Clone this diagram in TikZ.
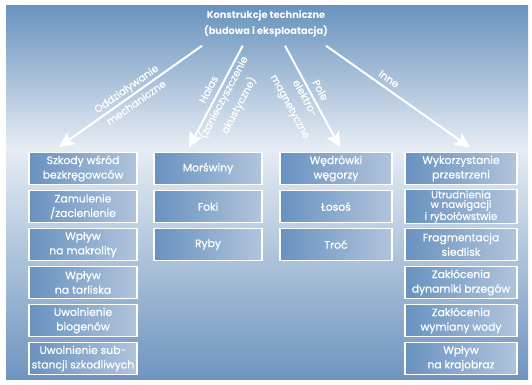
\documentclass[tikz,border=0pt]{standalone}
\usepackage{fontspec}
\setmainfont{Poppins}
\newfontfamily\boxfont{Poppins}[FakeBold=0.6]
\usetikzlibrary{arrows.meta}
\definecolor{bgtop}{HTML}{6892BD}
\definecolor{bglight}{HTML}{E6ECF4}
\definecolor{bgbot}{HTML}{6E95BF}
\definecolor{boxL}{HTML}{6892BF}
\definecolor{boxR}{HTML}{B0C4DC}
\tikzset{
  cbox/.style={draw=white, line width=1.2pt, left color=boxL, right color=boxR,
    text=white, minimum width=108pt, minimum height=32pt, inner sep=1pt,
    align=center, font=\boxfont\fontsize{10.8}{14.5}\selectfont},
  wbox/.style={cbox, minimum width=112pt},
  arr/.style={draw=white, line width=2pt, -{Stealth[length=15pt,width=14pt,inset=3pt]}},
  lbl/.style={text=white, align=center, font=\boxfont\fontsize{10.3}{17}\selectfont, inner sep=0pt}
}
\begin{document}
\begin{tikzpicture}[x=1pt,y=-1pt]
\useasboundingbox (0,0) rectangle (532,384);
\fill[top color=bgtop, bottom color=bglight] (6,5) rectangle (528,148.5);
\fill[top color=bglight, bottom color=bgbot] (6,148) rectangle (528,379);

\node[text=white, align=center, font=\fontsize{9.8}{16}\selectfont\bfseries] (title) at (266,24)
  {Konstrukcje techniczne\\(budowa i eksploatacja)};

\coordinate (s1) at (202,45.7);
\coordinate (e1) at (59,147);
\coordinate (s2) at (242.7,45.7);
\coordinate (e2) at (189,147.5);
\coordinate (s3) at (285,45.7);
\coordinate (e3) at (340,147.5);
\coordinate (s4) at (326,45.7);
\coordinate (e4) at (470,147.5);

\draw[arr] (s1) -- (e1);
\draw[arr] (s2) -- (e2);
\draw[arr] (s3) -- (e3);
\draw[arr] (s4) -- (e4);

\node[lbl, rotate=35.2] (l1) at (131,95.5) {Oddziaływanie\\mechaniczne};
\node[lbl, rotate=62.1] (l2) at (224.5,97.8) {Hałas\\(zanieczyszczenie\\akustyczne)};
\node[lbl, rotate=-61.5] (l3) at (304.4,98.8) {Pole\\elektro-\\magnetyczne};
\node[lbl, rotate=-35.1] (l4) at (389,79) {Inne};

% column 1
\node[cbox] (a1) at (83,168.5) {Szkody wśród\\bezkręgowców};
\node[cbox] (a2) at (83,206.5) {Zamulenie\\/zacienienie};
\node[cbox] (a3) at (83,244.5) {Wpływ\\na makrolity};
\node[cbox] (a4) at (83,282.5) {Wpływ\\na tarliska};
\node[cbox] (a5) at (83,320.5) {Uwolnienie\\biogenów};
\node[cbox] (a6) at (83,358.5) {Uwolnienie sub-\\stancji szkodliwych};
% column 2
\node[cbox] (b1) at (208,168.5) {Morświny};
\node[cbox] (b2) at (208,206.5) {Foki};
\node[cbox] (b3) at (208,244.5) {Ryby};
% column 3
\node[wbox] (c1) at (336,168.5) {Wędrówki\\węgorzy};
\node[wbox] (c2) at (336,206.5) {Łosoś};
\node[wbox] (c3) at (336,244.5) {Troć};
% column 4
\node[wbox] (d1) at (461,168.5) {Wykorzystanie\\przestrzeni};
\node[wbox, font=\boxfont\fontsize{10.3}{9.6}\selectfont] (d2) at (461,206.5) {Utrudnienia\\w nawigacji\\i rybołówstwie};
\node[wbox] (d3) at (461,244.5) {Fragmentacja\\siedlisk};
\node[wbox] (d4) at (461,282.5) {Zakłócenia\\dynamiki brzegów};
\node[wbox] (d5) at (461,320.5) {Zakłócenia\\wymiany wody};
\node[wbox] (d6) at (461,358.5) {Wpływ\\na krajobraz};
\end{tikzpicture}
\end{document}
